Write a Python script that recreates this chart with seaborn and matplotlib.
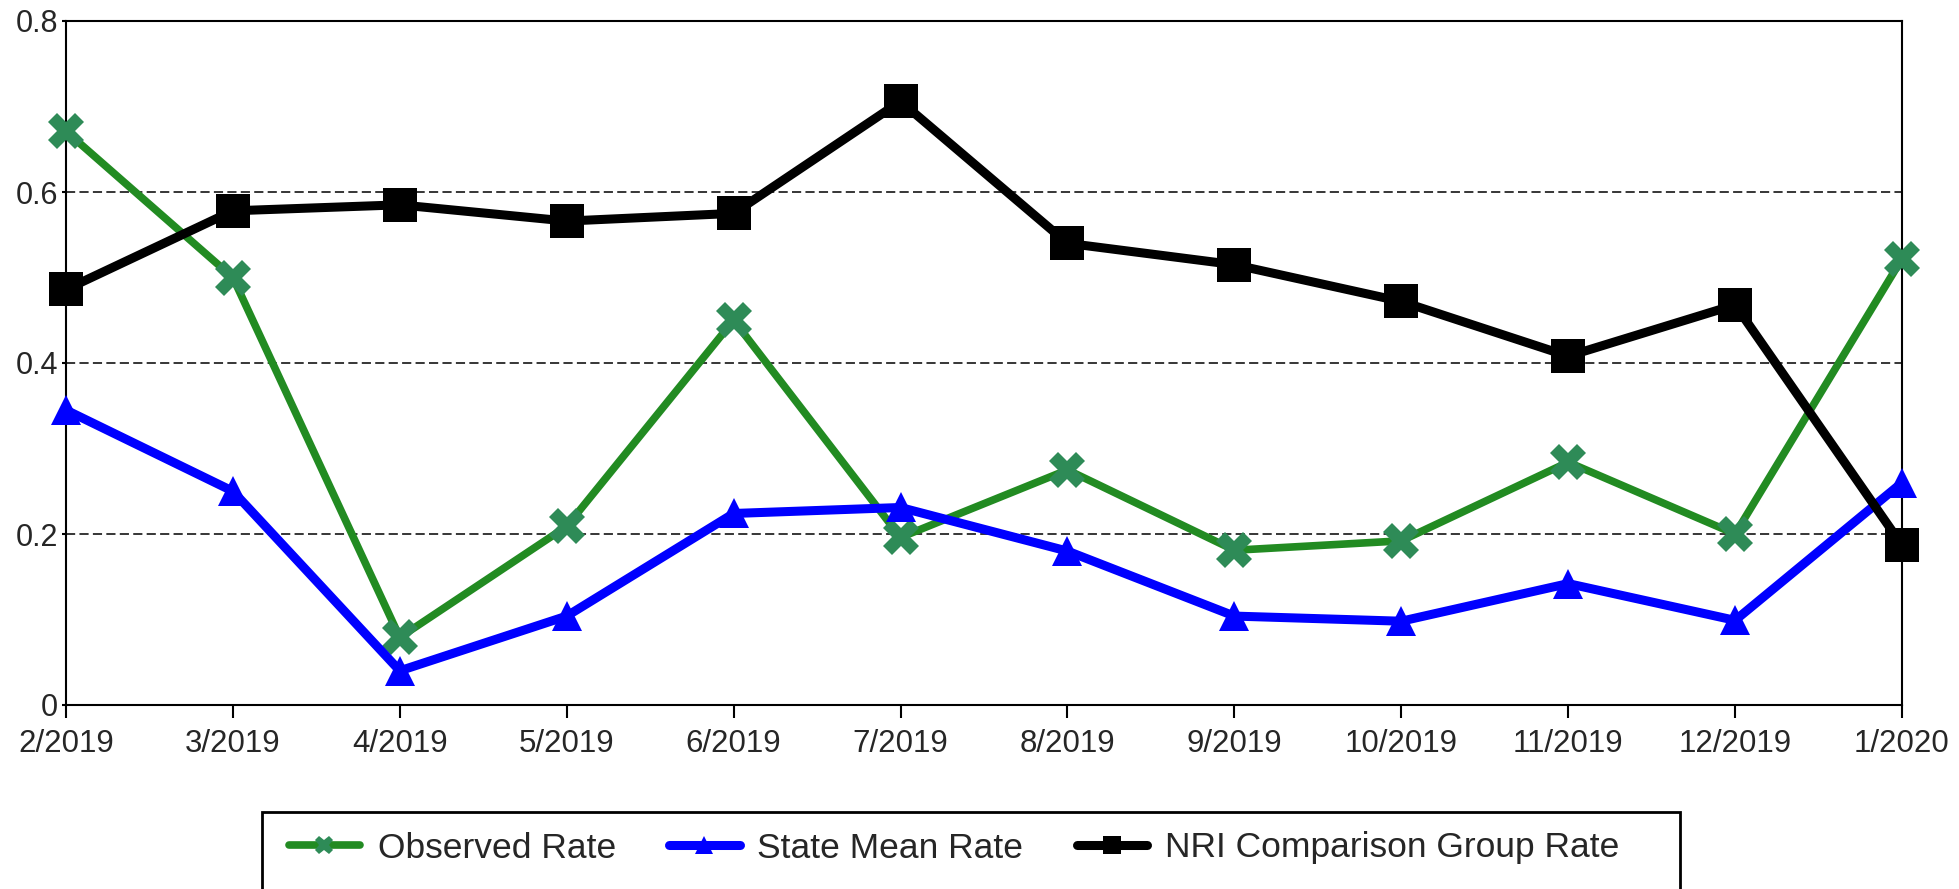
import matplotlib
matplotlib.use("Agg")
import matplotlib.pyplot as plt
from matplotlib.patches import Rectangle
import pandas as pd
import seaborn as sns

# monthly rates
months = ["2/2019", "3/2019", "4/2019", "5/2019", "6/2019", "7/2019",
          "8/2019", "9/2019", "10/2019", "11/2019", "12/2019", "1/2020"]
observed = [0.671, 0.500, 0.079, 0.209, 0.450, 0.196, 0.275, 0.181, 0.192, 0.284, 0.200, 0.522]
state_mean = [0.345, 0.250, 0.040, 0.104, 0.224, 0.231, 0.180, 0.104, 0.098, 0.142, 0.099, 0.260]
nri_group = [0.486, 0.578, 0.585, 0.566, 0.575, 0.706, 0.540, 0.515, 0.472, 0.408, 0.468, 0.187]
y_ticks = [0, 0.2, 0.4, 0.6, 0.8]
y_labels = ["0", "0.2", "0.4", "0.6", "0.8"]

sns.set_style("white")
plt.rcParams["font.family"] = ["Liberation Sans", "DejaVu Sans"]

df = pd.DataFrame({"idx": range(len(months)), "month": months,
                   "observed": observed, "state": state_mean, "nri": nri_group})

fig = plt.figure(figsize=(19.59, 8.89), dpi=100)
ax = fig.add_axes([66 / 1959, 1 - 705 / 889, (1902 - 66) / 1959, (705 - 21) / 889])

sns.lineplot(data=df, x="idx", y="observed", ax=ax, color="#228B22", lw=5.5,
             marker="X", markersize=26, markerfacecolor="#2E8B57",
             markeredgecolor="#2E8B57", markeredgewidth=0, label="Observed Rate",
             zorder=3, clip_on=False)
sns.lineplot(data=df, x="idx", y="state", ax=ax, color="#0000FF", lw=6.5,
             marker="^", markersize=22, markerfacecolor="#0000FF",
             markeredgecolor="#0000FF", markeredgewidth=0, label="State Mean Rate",
             zorder=3, clip_on=False)
sns.lineplot(data=df, x="idx", y="nri", ax=ax, color="black", lw=6.5,
             marker="s", markersize=25, markerfacecolor="black",
             markeredgecolor="black", markeredgewidth=0, label="NRI Comparison Group Rate",
             zorder=3, clip_on=False)

ax.set_xlim(0, len(months) - 1)
ax.set_ylim(0, 0.8)
ax.set_xticks(df["idx"])
ax.set_xticklabels(months, fontsize=22.5)
ax.set_yticks(y_ticks)
ax.set_yticklabels(y_labels, fontsize=22)
ax.set_xlabel("")
ax.set_ylabel("")
ax.tick_params(axis="x", length=9, width=1.5, pad=8, color="black", bottom=True)
ax.tick_params(axis="y", length=3, width=1.5, pad=2.5, color="black", left=True)

ax.yaxis.grid(True, color="black", lw=1.1, linestyle=(0, (6, 2.8)))
ax.xaxis.grid(False)
for s in ax.spines.values():
    s.set_visible(True)
    s.set_color("black")
    s.set_linewidth(1.5)
    s.set_zorder(2.5)

handles, labels = ax.get_legend_handles_labels()
ax.get_legend().remove()
leg = fig.legend(handles, labels, loc="center left",
                 bbox_to_anchor=(289 / 1959, 1 - 848 / 889), ncol=3, frameon=False,
                 fontsize=25.5, borderpad=0, borderaxespad=0, handlelength=2.0,
                 handletextpad=0.5, columnspacing=1.5)
for h in leg.legend_handles:
    h.set_markersize(13)

fig.patches.append(Rectangle((262 / 1959, -0.05), (1680 - 262) / 1959, 1 - 812 / 889 + 0.05,
                             transform=fig.transFigure, fill=False, edgecolor="black",
                             lw=2, zorder=0))

fig.savefig("out.png", dpi=100)
